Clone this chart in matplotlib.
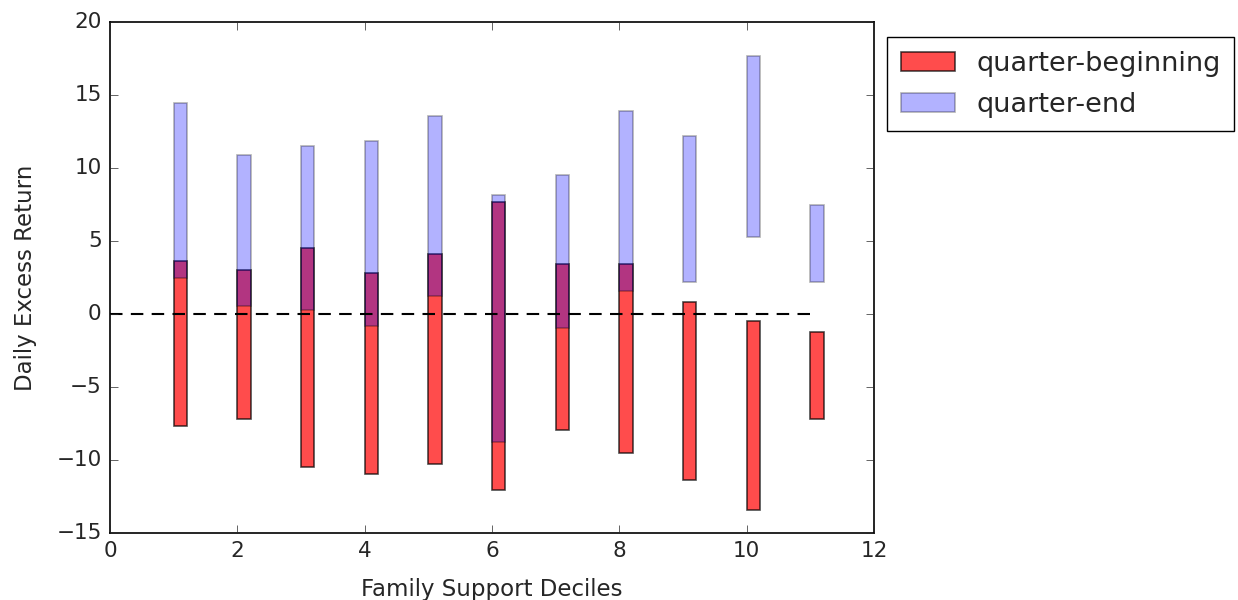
import numpy as np
import matplotlib
matplotlib.use("Agg")
import matplotlib.pyplot as plt

plt.style.use("classic")

deciles = [1, 2, 3, 4, 5, 6, 7, 8, 9, 10, 11]
# quarter-beginning: low / high of the range
qb_low = [-7.66, -7.18, -10.45, -10.95, -10.3, -12.04, -7.95, -9.54, -11.4, -13.45, -7.16]
qb_high = [3.63, 3.0, 4.54, 2.84, 4.09, 7.66, 3.45, 3.45, 0.8, -0.5, -1.25]
# quarter-end: low / high of the range
qe_low = [2.45, 0.57, 0.3, -0.8, 1.2, -8.75, -0.95, 1.55, 2.16, 5.27, 2.16]
qe_high = [14.47, 10.9, 11.54, 11.86, 13.59, 8.13, 9.54, 13.9, 12.16, 17.65, 7.5]

qb_low = np.array(qb_low)
qb_high = np.array(qb_high)
qe_low = np.array(qe_low)
qe_high = np.array(qe_high)

fig = plt.figure(figsize=(12.38, 6), dpi=100, facecolor="white")
ax = fig.add_axes([0.0889, 0.1117, 0.6171, 0.8516])

ax.bar(deciles, qb_high - qb_low, width=0.21, bottom=qb_low, align="edge",
       color="red", edgecolor="black", alpha=0.7, linewidth=1.2,
       label="quarter-beginning")
ax.bar(deciles, qe_high - qe_low, width=0.21, bottom=qe_low, align="edge",
       color="blue", edgecolor="black", alpha=0.3, linewidth=1.2,
       label="quarter-end")
ax.plot([0, 11], [0, 0], "k--", linewidth=1.5, dashes=(9, 6))

ax.set_xlim(0, 12)
ax.set_ylim(-15, 20)
ax.set_xticks(range(0, 13, 2))
ax.set_yticks(range(-15, 21, 5))
ax.tick_params(labelsize=15.5, colors="#262626", length=6, pad=6)
for s in ax.spines.values():
    s.set_linewidth(1.2)

ax.set_xlabel("Family Support Deciles", fontsize=16.5, color="#262626", labelpad=12)
ax.set_ylabel("Daily Excess Return", fontsize=16.5, color="#262626", labelpad=14)

leg = ax.legend(loc="upper left", bbox_to_anchor=(0.7165, 0.938),
                bbox_transform=fig.transFigure, fontsize=19.5,
                frameon=True, fancybox=False, borderaxespad=0.0,
                borderpad=0.5, labelspacing=0.55)
for t in leg.get_texts():
    t.set_color("#262626")

fig.savefig("out.png", dpi=100, facecolor="white")
